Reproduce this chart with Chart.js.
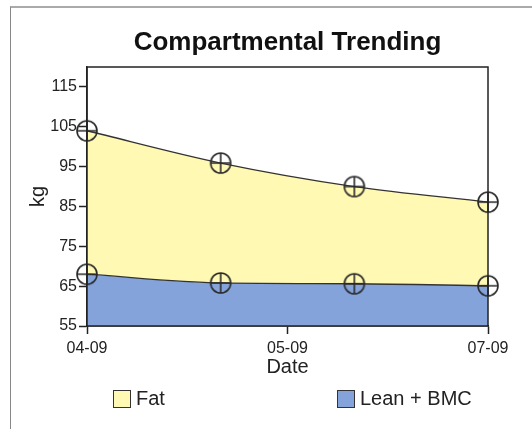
<!DOCTYPE html>
<html>
<head>
<meta charset="utf-8">
<script src="https://cdn.jsdelivr.net/npm/chart.js@4.4.1/dist/chart.umd.min.js"></script>
<style>
    body { margin: 0; background: #fff; font-family: "Liberation Sans", Arial, sans-serif; }
    #wrap { position: relative; width: 532px; height: 429px; overflow: hidden; }
    #frame { position: absolute; left: 10px; top: 6px; width: 530px; height: 430px;
             border-top: 2px solid #aaa; border-left: 1px solid #888; }
    #chart { position: absolute; left: 0; top: 0; }
    #legend { position: absolute; left: 113px; top: 387px; display: flex; }
    .item { width: 224px; display: flex; align-items: center; font-size: 20px; color: #222; }
    .box { width: 16px; height: 16px; border: 1px solid #333; margin-right: 5px; }
</style>
</head>
<body>
<div id="wrap">
    <div id="frame"></div>
    <canvas id="chart" width="532" height="429"></canvas>
    <div id="legend"></div>
</div>
<script>
// scan positions (evenly spaced), date tick labels sit at their own positions
const scanX = [0, 1, 2, 3];
const fatKg = [104.0, 95.9, 90.0, 86.1];
const leanKg = [68.0, 65.8, 65.6, 65.1];
const dateTickPos = [0, 1.5, 3];
const dateTickLabels = ["04-09", "05-09", "07-09"];
const kgTicks = [55, 65, 75, 85, 95, 105, 115];

const chartTitle = "Compartmental Trending";
const seriesNames = ["Fat", "Lean + BMC"];
const seriesColors = ["#fff9b4", "#84a3da"];

function crossCircle() {
    const c = document.createElement("canvas");
    c.width = 24; c.height = 24;
    const g = c.getContext("2d");
    g.strokeStyle = "#2a2a2a";
    g.lineWidth = 1.6;
    g.beginPath();
    g.arc(12, 12, 10, 0, Math.PI * 2);
    g.stroke();
    g.beginPath();
    g.moveTo(2, 12); g.lineTo(22, 12);
    g.moveTo(12, 2); g.lineTo(12, 22);
    g.stroke();
    return c;
}
const marker = crossCircle();

// plot box + title centred over the plot area
const plotFrame = {
    id: "plotFrame",
    beforeDatasetsDraw(chart) {
        const a = chart.chartArea;
        const ctx = chart.ctx;
        ctx.save();
        ctx.fillStyle = "#111";
        ctx.font = "bold 26px 'Liberation Sans'";
        ctx.textAlign = "center";
        ctx.textBaseline = "middle";
        ctx.fillText(chartTitle, (a.left + a.right) / 2, 43);
        ctx.restore();
    },
    afterDatasetsDraw(chart) {
        const a = chart.chartArea;
        const ctx = chart.ctx;
        ctx.save();
        ctx.strokeStyle = "#222";
        ctx.lineWidth = 1.5;
        ctx.strokeRect(a.left, a.top, a.right - a.left, a.bottom - a.top);
        ctx.restore();
    }
};

const common = {
    borderColor: "#333",
    borderWidth: 1.3,
    cubicInterpolationMode: "monotone",
    pointStyle: marker,
    pointRadius: 12,
    clip: false
};

const ctx = document.getElementById("chart").getContext("2d");
const chart = new Chart(ctx, {
    type: "line",
    data: {
        datasets: [
            Object.assign({
                label: seriesNames[0],
                data: scanX.map((x, i) => ({ x: x, y: fatKg[i] })),
                backgroundColor: seriesColors[0],
                fill: "+1"
            }, common),
            Object.assign({
                label: seriesNames[1],
                data: scanX.map((x, i) => ({ x: x, y: leanKg[i] })),
                backgroundColor: seriesColors[1],
                fill: "start"
            }, common)
        ]
    },
    options: {
        responsive: false,
        animation: false,
        layout: { padding: { left: 0, right: 44, top: 67, bottom: 50 } },
        plugins: {
            legend: { display: false },
            tooltip: { enabled: false },
            title: { display: false },
            filler: { drawTime: "beforeDatasetsDraw" }
        },
        scales: {
            x: {
                type: "linear",
                min: 0,
                max: 3,
                afterBuildTicks: s => { s.ticks = dateTickPos.map(v => ({ value: v })); },
                afterFit: s => { s.height = 53; },
                border: { color: "#222", width: 1.5 },
                grid: { drawOnChartArea: false, tickLength: 8, color: "#222", tickWidth: 1.5 },
                ticks: {
                    color: "#222",
                    padding: 5,
                    font: { family: "Liberation Sans", size: 16 },
                    callback: v => dateTickLabels[dateTickPos.indexOf(v)]
                },
                title: {
                    display: true,
                    text: "Date",
                    color: "#222",
                    font: { family: "Liberation Sans", size: 20 },
                    padding: { top: 0, bottom: 0 }
                }
            },
            y: {
                min: 55,
                max: 120,
                afterBuildTicks: s => { s.ticks = kgTicks.map(v => ({ value: v })); },
                afterFit: s => { s.width = 87; },
                border: { color: "#222", width: 1.5 },
                grid: { drawOnChartArea: false, tickLength: 8, color: "#222", tickWidth: 1.5 },
                ticks: {
                    color: "#222",
                    padding: 2,
                    font: { family: "Liberation Sans", size: 16 }
                },
                title: {
                    display: true,
                    text: "kg",
                    color: "#222",
                    font: { family: "Liberation Sans", size: 20 },
                    padding: { top: 26, bottom: 0 }
                }
            }
        }
    },
    plugins: [plotFrame]
});

const legendEl = document.getElementById("legend");
chart.data.datasets.forEach(ds => {
    const item = document.createElement("div");
    item.className = "item";
    item.innerHTML = `<span class="box" style="background:${ds.backgroundColor}"></span>${ds.label}`;
    legendEl.appendChild(item);
});
</script>
</body>
</html>
